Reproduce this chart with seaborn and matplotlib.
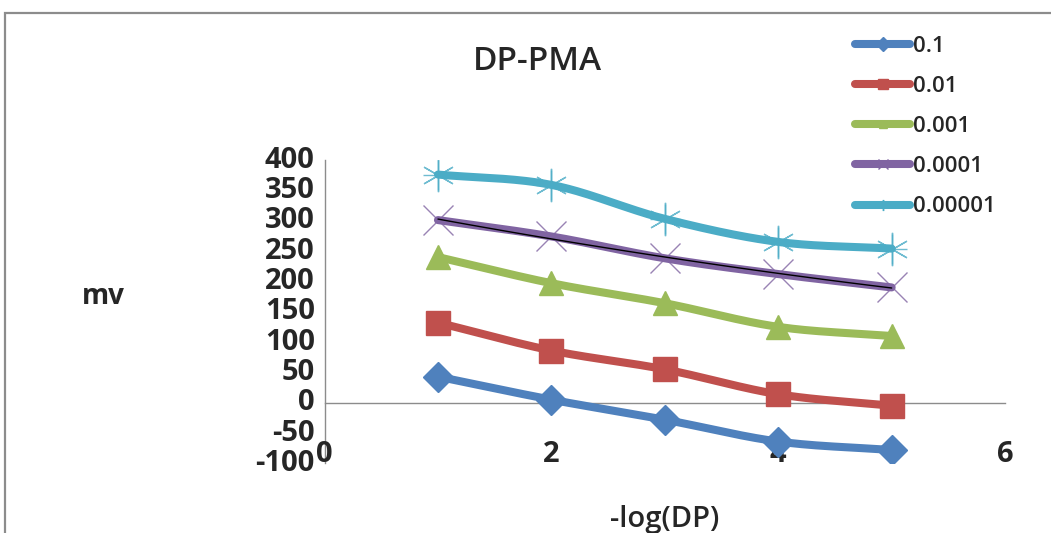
import numpy as np
import pandas as pd
import matplotlib
matplotlib.use("Agg")
import matplotlib.pyplot as plt
from matplotlib.lines import Line2D
from matplotlib.patches import Rectangle
import seaborn as sns

# -log(DP) positions and measured potentials (mV) for each concentration
x_vals = [1, 2, 3, 4, 5]
series_names = ["0.1", "0.01", "0.001", "0.0001", "0.00001"]
mv_01 = [43, 5, -28, -64, -78]
mv_001 = [132, 86, 55, 14, -5]
mv_0001 = [240, 197, 164, 125, 110]
mv_00001 = [301, 274, 238, 212, 190]
mv_000001 = [376, 359, 303, 265, 254]

x_ticks = [0, 2, 4, 6]
y_ticks = [-100, -50, 0, 50, 100, 150, 200, 250, 300, 350, 400]

colors = ["#4F81BD", "#C0504D", "#9BBB59", "#8064A2", "#4BACC6"]
markers = ["D", "s", "^", "x", "*"]

sns.set_style("white")
plt.rcParams["font.family"] = ["Open Sans", "DejaVu Sans"]


def smooth_curve(xs, ys, n=40, tension=0.5):
    """Cardinal (Catmull-Rom style) spline through the points."""
    xs = np.asarray(xs, float)
    ys = np.asarray(ys, float)
    px = np.concatenate([[2 * xs[0] - xs[1]], xs, [2 * xs[-1] - xs[-2]]])
    py = np.concatenate([[2 * ys[0] - ys[1]], ys, [2 * ys[-1] - ys[-2]]])
    outx, outy = [], []
    for i in range(1, len(px) - 2):
        t = np.linspace(0, 1, n, endpoint=(i == len(px) - 3))
        m1x = tension * (px[i + 1] - px[i - 1])
        m2x = tension * (px[i + 2] - px[i])
        m1y = tension * (py[i + 1] - py[i - 1])
        m2y = tension * (py[i + 2] - py[i])
        h00 = 2 * t**3 - 3 * t**2 + 1
        h10 = t**3 - 2 * t**2 + t
        h01 = -2 * t**3 + 3 * t**2
        h11 = t**3 - t**2
        outx.append(h00 * px[i] + h10 * m1x + h01 * px[i + 1] + h11 * m2x)
        outy.append(h00 * py[i] + h10 * m1y + h01 * py[i + 1] + h11 * m2y)
    return np.concatenate(outx), np.concatenate(outy)


fig = plt.figure(figsize=(10.51, 5.33), dpi=100)
ax = fig.add_axes([0.3088, 0.1306, 0.6475, 0.5692])

# chart frame
fig.patches.append(Rectangle((5 / 1051, -0.1), 1.2, 1.1 - 13 / 533,
                             transform=fig.transFigure, fill=False,
                             edgecolor="#8c8c8c", linewidth=1.6))

all_series = [mv_01, mv_001, mv_0001, mv_00001, mv_000001]
marker_sizes = [15, 17, 17, 17, 20]
for name, ys, c, m, ms in zip(series_names, all_series, colors, markers, marker_sizes):
    sx, sy = smooth_curve(x_vals, ys)
    df = pd.DataFrame({"x": sx, "y": sy})
    sns.lineplot(data=df, x="x", y="y", ax=ax, color=c, linewidth=5.8,
                 sort=False, estimator=None, solid_capstyle="round", zorder=3)
    if m in ("x", "*"):
        mark = "x" if m == "x" else (6, 2, 0)
        ax.plot(x_vals, ys, linestyle="none", marker=mark, markersize=ms + 4,
                markeredgecolor=c, markeredgewidth=1.0, alpha=0.8, zorder=4)
        if m == "*":
            ax.plot(x_vals, ys, linestyle="none", marker="+", markersize=ms + 2,
                    markeredgecolor=c, markeredgewidth=1.0, alpha=0.8, zorder=4)
    else:
        ax.plot(x_vals, ys, linestyle="none", marker=m, markersize=ms,
                markerfacecolor=c, markeredgecolor=c, zorder=4)

# polynomial trendline for the 0.0001 series
coef = np.polyfit(x_vals, mv_00001, 2)
tx = np.linspace(x_vals[0], x_vals[-1], 100)
ax.plot(tx, np.polyval(coef, tx), color="black", linewidth=1.0, zorder=5)

ax.set_xlim(0, 6)
ax.set_ylim(-100, 400)
ax.set_yticks(y_ticks)
ax.set_xticks(x_ticks)
ax.set_yticklabels([str(v) for v in y_ticks], fontsize=21, fontweight="bold")
ax.set_xticklabels([])
ax.tick_params(axis="y", direction="out", length=6, width=1, color="#8c8c8c", pad=1)
ax.tick_params(axis="x", direction="out", length=6, width=1, color="#8c8c8c")
for lab in ax.get_yticklabels():
    lab.set_verticalalignment("center")

ax.spines["bottom"].set_position(("data", 0))
for s in ("top", "right"):
    ax.spines[s].set_visible(False)
for s in ("left", "bottom"):
    ax.spines[s].set_color("#8c8c8c")
    ax.spines[s].set_linewidth(1.0)

# x tick labels sit at the bottom of the value range
for xv in x_ticks:
    ax.text(xv, -86, str(xv), ha="center", va="center", fontsize=21,
            fontweight="bold", transform=ax.transData)

ax.set_xlabel("")
ax.set_ylabel("")
fig.text(665 / 1051, 1 - 520 / 533, "-log(DP)", ha="center", va="center",
         fontsize=21, fontweight="semibold")
fig.text(103 / 1051, 1 - 297 / 533, "mv", ha="center", va="center",
         fontsize=20, fontweight="bold")
fig.text(537 / 1051, 1 - 62 / 533, "DP-PMA", ha="center", va="center",
         fontsize=24, fontweight="semibold")

handles = []
leg_ms = [7, 7, 6, 7, 8]
for c, m, ms in zip(colors, markers, leg_ms):
    mk = m if m != "*" else (6, 2, 0)
    handles.append(Line2D([], [], color=c, linewidth=5.8, marker=mk, markersize=ms,
                          markerfacecolor=c, markeredgecolor=c, markeredgewidth=1.0,
                          solid_capstyle="round"))
fig.legend(handles, series_names, loc="upper left",
           bbox_to_anchor=(846 / 1051, 1 - 27 / 533), frameon=False,
           prop={"size": 16, "weight": "semibold"}, handlelength=2.5,
           handletextpad=0.12, labelspacing=0.86, borderaxespad=0)

fig.savefig("out.png", dpi=100)
